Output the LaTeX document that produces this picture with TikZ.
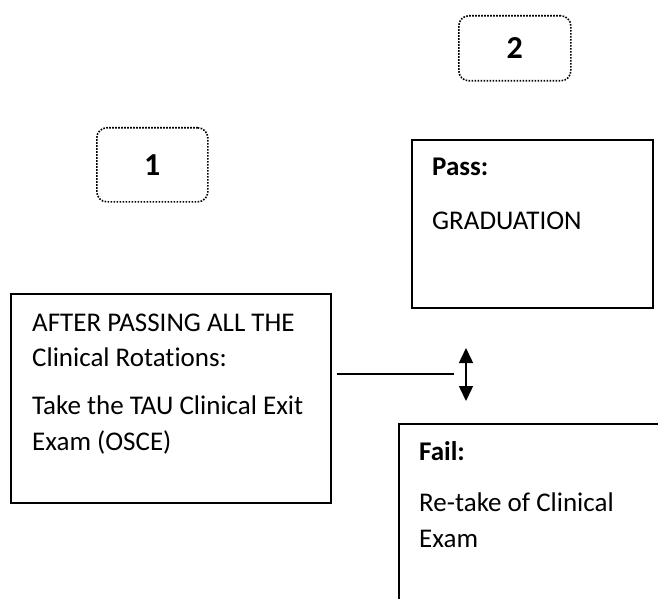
\documentclass[tikz,border=0pt]{standalone}
\usepackage{fontspec}
\setmainfont{Carlito}[RawFeature=-liga]
\usetikzlibrary{arrows.meta,positioning}

\tikzset{
  frame/.style={draw, line width=1.5pt, rectangle, inner sep=0pt, anchor=north west},
  tag/.style={draw, dash pattern=on 1.6pt off 1.4pt, line width=1.6pt, rounded corners=10pt, anchor=north west, inner sep=0pt},
  num/.style={font=\fontsize{32}{36}\selectfont\bfseries},
  txt/.style={anchor=base west, inner sep=0pt, font=\fontsize{27}{31}\selectfont},
  hd/.style={txt, font=\fontsize{27}{31}\selectfont\bfseries}
}

\begin{document}
\begin{tikzpicture}[x=1pt, y=-1pt]
  \useasboundingbox (0,0) rectangle (658,599);
  % step tags
  \node[tag, minimum width=112, minimum height=65] (tagtwo) at (458,15) {};
  \node[num] (two) at (tagtwo.center) {2};
  \node[tag, minimum width=111, minimum height=74] (tagone) at (96,127) {};
  \node[num] (one) at (tagone.center) {1};
  % exit exam
  \node[frame, minimum width=320, minimum height=209] (exam) at (10,293) {};
  \node[txt] (examA) at (32,331) {AFTER PASSING ALL THE};
  \node[txt] (examB) at (32,366) {Clinical Rotations:};
  \node[txt] (examC) at (32,414) {Take the TAU Clinical Exit};
  \node[txt] (examD) at (32,450) {Exam (OSCE)};
  % pass
  \node[frame, minimum width=241, minimum height=168] (pass) at (411,139) {};
  \node[hd] (passA) at (432,175) {Pass:};
  \node[txt] (passB) at (432,229) {GRADUATION};
  % fail (runs off the page)
  \node[frame, minimum width=300, minimum height=230] (fail) at (398,423) {};
  \node[hd] (failA) at (419,460) {Fail:};
  \node[txt] (failB) at (419,511) {Re-take of Clinical};
  \node[txt] (failC) at (419,547) {Exam};
  % connector
  \coordinate (split) at (454,374);
  \coordinate (up) at (466,348);
  \coordinate (down) at (466,401);
  \draw[line width=1.5pt] ([xshift=5pt]exam.east |- split) -- (split);
  \draw[line width=1.5pt, {Triangle[width=14pt,length=15pt]}-{Triangle[width=14pt,length=15pt]}] (up) -- (down);
\end{tikzpicture}
\end{document}
